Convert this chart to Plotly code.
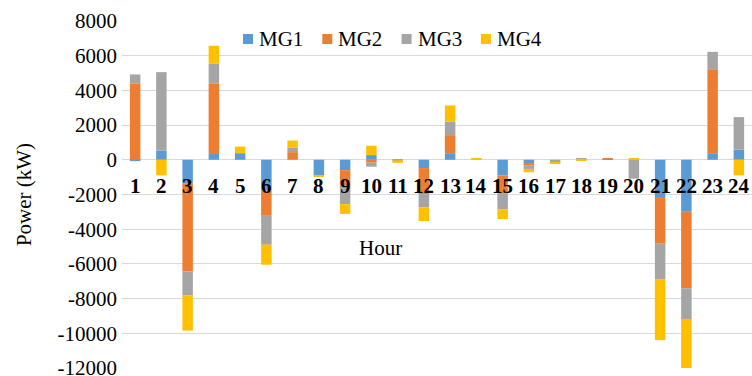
import plotly.graph_objects as go

hours = [str(h) for h in range(1, 25)]

mg1 = [-80, 520, -1380, 330, 380, -1770, 0, -900, -600, 270, 0, -480,
       380, 0, -900, -190, 0, 0, 0, 0, -2150, -3000, 380, 580]
mg2 = [4380, 0, -5050, 4050, 0, -1460, 440, 0, -880, -170, 0, -1500,
       1040, 0, -1020, -150, 0, 0, 70, 0, -2690, -4410, 4840, 0]
mg3 = [540, 4530, -1400, 1150, 0, -1670, 250, 0, -1080, -230, -30, -770,
       790, 0, -940, -190, -170, 80, 0, -1090, -2070, -1770, 1000, 1880]
mg4 = [0, -900, -2020, 1040, 380, -1150, 420, -60, -560, 540, -150, -790,
       920, 70, -560, -190, -60, -50, 0, 70, -3490, -2880, 0, -900]

series = [("MG1", mg1, "#5B9BD5"), ("MG2", mg2, "#ED7D31"),
          ("MG3", mg3, "#A5A5A5"), ("MG4", mg4, "#FFC000")]

y_ticks = list(range(-12000, 8001, 2000))
y_min, y_max = -12005, 8000

W, H = 752, 376
M_L, M_R, M_T, M_B = 122, 0, 21, 8
plot_w, plot_h = W - M_L - M_R, H - M_T - M_B


def px_to_paper(px, py):
    return (px - M_L) / plot_w, (H - M_B - py) / plot_h


fig = go.Figure()
for name, vals, color in series:
    fig.add_trace(go.Bar(x=hours, y=vals, name=name, marker_color=color,
                         marker_line_width=0, showlegend=False))

serif = "Liberation Serif, Times New Roman, serif"

# compact horizontal key across the top of the plot
shapes, notes = [], []
key_x0, key_step, key_y, sq = 243, 79.3, 39, 10
for i, (name, _, color) in enumerate(series):
    left = key_x0 + i * key_step
    x0, y0 = px_to_paper(left, key_y + sq / 2)
    x1, y1 = px_to_paper(left + sq, key_y - sq / 2)
    shapes.append(dict(type="rect", xref="paper", yref="paper",
                       x0=x0, x1=x1, y0=y0, y1=y1,
                       fillcolor=color, line_width=0))
    tx, ty = px_to_paper(left + sq + 4, key_y)
    notes.append(dict(text=name, xref="paper", yref="paper", x=tx, y=ty,
                      xanchor="left", yanchor="middle", showarrow=False,
                      font=dict(family=serif, size=21, color="#000000")))

# hour labels sit just under the zero line, drawn over the bars
# (category positions on the x axis are addressed by index)
for idx, h in enumerate(hours):
    notes.append(dict(text="<b>%s</b>" % h, xref="x", yref="y", x=idx, y=0,
                      yanchor="middle", yshift=-26, showarrow=False,
                      font=dict(family=serif, size=21, color="#000000")))

hx, hy = px_to_paper(380, 248)
notes.append(dict(text="Hour", xref="paper", yref="paper", x=hx, y=hy,
                  showarrow=False, font=dict(family=serif, size=21)))

fig.update_layout(
    width=W, height=H,
    margin=dict(l=M_L, r=M_R, t=M_T, b=M_B),
    barmode="relative", bargap=0.6,
    plot_bgcolor="white", paper_bgcolor="white",
    font=dict(family=serif, size=21, color="#000000"),
    xaxis=dict(
        type="category", categoryarray=hours,
        showgrid=False, showline=False, ticks="", showticklabels=False,
    ),
    yaxis=dict(
        range=[y_min, y_max], tickvals=y_ticks,
        ticktext=[str(v) for v in y_ticks],
        showgrid=True, gridcolor="#D9D9D9", gridwidth=1,
        zeroline=True, zerolinecolor="#D9D9D9", zerolinewidth=1,
        showline=False, ticks="", ticklabelstandoff=4,
        ticklabeloverflow="allow", automargin=False,
        tickfont=dict(family=serif, size=21, color="#000000"),
        title=dict(text="Power (kW)", font=dict(family=serif, size=21), standoff=20),
    ),
    shapes=shapes,
    annotations=notes,
)

fig.write_html("out.html")
